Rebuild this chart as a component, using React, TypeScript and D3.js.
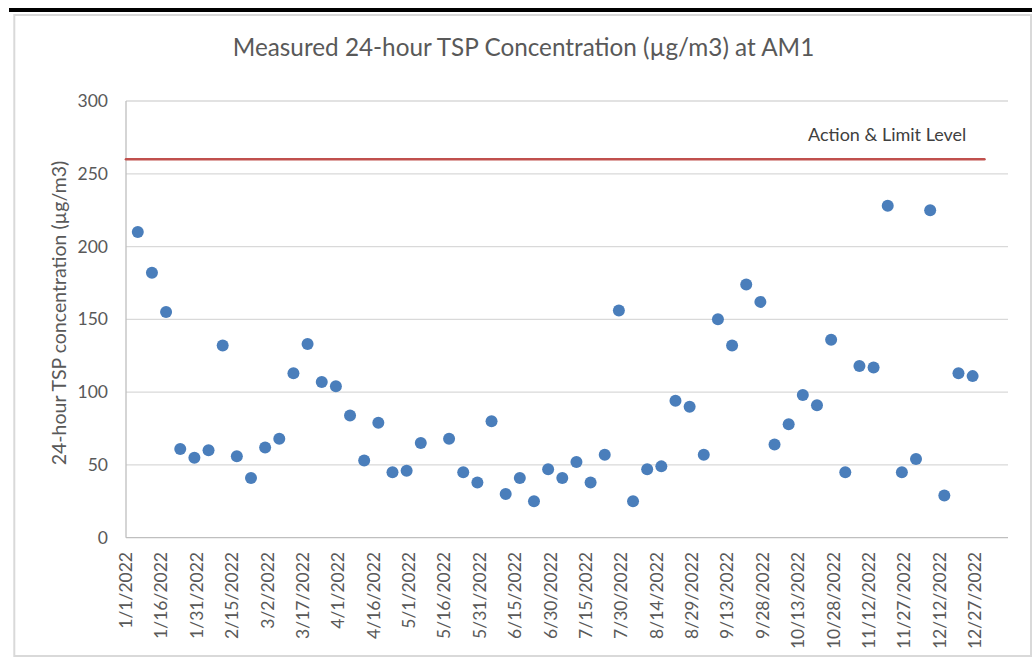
import React from "react";
import * as d3 from "d3";

const sampleDates: string[] = [
  "2022-01-06","2022-01-12","2022-01-18","2022-01-24","2022-01-30","2022-02-05","2022-02-11","2022-02-17","2022-02-23","2022-03-01",
  "2022-03-07","2022-03-13","2022-03-19","2022-03-25","2022-03-31","2022-04-06","2022-04-12","2022-04-18","2022-04-24","2022-04-30",
  "2022-05-06","2022-05-18","2022-05-24","2022-05-30","2022-06-05","2022-06-11","2022-06-17","2022-06-23","2022-06-29",
  "2022-07-05","2022-07-11","2022-07-17","2022-07-23","2022-07-29","2022-08-04","2022-08-10","2022-08-16","2022-08-22","2022-08-28",
  "2022-09-03","2022-09-09","2022-09-15","2022-09-21","2022-09-27","2022-10-03","2022-10-09","2022-10-15","2022-10-21","2022-10-27",
  "2022-11-02","2022-11-08","2022-11-14","2022-11-20","2022-11-26","2022-12-02","2022-12-08","2022-12-14","2022-12-20","2022-12-26",
];

const tspValues: number[] = [
  210, 182, 155, 61, 55, 60, 132, 56, 41, 62,
  68, 113, 133, 107, 104, 84, 53, 79, 45, 46,
  65, 68, 45, 38, 80, 30, 41, 25, 47,
  41, 52, 38, 57, 156, 25, 47, 49, 94, 90,
  57, 150, 132, 174, 162, 64, 78, 98, 91, 136,
  45, 118, 117, 228, 45, 54, 225, 29, 113, 111,
];

const limitDates: string[] = ["2022-01-01", "2022-12-31"];
const limitValue = 260;

const xTickLabels: string[] = [
  "1/1/2022","1/16/2022","1/31/2022","2/15/2022","3/2/2022","3/17/2022","4/1/2022","4/16/2022","5/1/2022",
  "5/16/2022","5/31/2022","6/15/2022","6/30/2022","7/15/2022","7/30/2022","8/14/2022","8/29/2022","9/13/2022",
  "9/28/2022","10/13/2022","10/28/2022","11/12/2022","11/27/2022","12/12/2022","12/27/2022",
];
const yTicks: number[] = [0, 50, 100, 150, 200, 250, 300];

const FONT = "Lato, 'Open Sans', sans-serif";

export default function App() {
  const parseIso = d3.utcParse("%Y-%m-%d");
  const parseUs = d3.utcParse("%-m/%-d/%Y");
  const x = d3
    .scaleUtc()
    .domain([Date.UTC(2022, 0, 1), Date.UTC(2023, 0, 10)])
    .range([126, 1008]);
  const y = d3.scaleLinear().domain([0, 300]).range([537.7, 101]);

  const points = sampleDates.map((d, i) => ({ date: parseIso(d)!, value: tspValues[i] }));
  const limitLine = d3
    .line<string>()
    .x((d) => x(parseIso(d)!))
    .y(() => y(limitValue));

  return (
    <svg width={1032} height={661} style={{ position: "absolute", left: 0, top: 0, background: "#fff" }}>
      <rect x={9} y={8} width={1023} height={4} fill="#000" />
      <rect x={14.3} y={15} width={1016.7} height={641} fill="#fff" stroke="#d9d9d9" strokeWidth={2} />
      <text x={523.5} y={56} textAnchor="middle" fontFamily={FONT} fontSize={24.3} fill="#595959">
        Measured 24-hour TSP Concentration (µg/m3) at AM1
      </text>
      {yTicks.map((t) => (
        <g key={t}>
          {t > 0 && (
            <line x1={x.range()[0]} x2={x.range()[1]} y1={y(t)} y2={y(t)} stroke="#d9d9d9" strokeWidth={1.3} />
          )}
          <text x={108} y={y(t)} dy="0.35em" textAnchor="end" fontFamily={FONT} fontSize={17.5} fill="#595959">
            {t}
          </text>
        </g>
      ))}
      <line x1={x.range()[0]} x2={x.range()[1]} y1={y(0)} y2={y(0)} stroke="#bfbfbf" strokeWidth={1.3} />
      <line x1={x.range()[0]} x2={x.range()[0]} y1={y(300)} y2={y(0)} stroke="#bfbfbf" strokeWidth={1.3} />
      {xTickLabels.map((lab) => {
        const px = x(parseUs(lab)!);
        return (
          <text
            key={lab}
            transform={`translate(${px},552) rotate(-90)`}
            dy="0.35em"
            textAnchor="end"
            fontFamily={FONT}
            fontSize={17.5}
            fill="#595959"
          >
            {lab}
          </text>
        );
      })}
      <text
        transform="translate(66,313) rotate(-90)"
        textAnchor="middle"
        fontFamily={FONT}
        fontSize={19.5}
        fill="#595959"
      >
        24-hour TSP concentration (µg/m3)
      </text>
      <path d={limitLine(limitDates) || ""} stroke="#c0504d" strokeWidth={2.6} fill="none" strokeLinecap="round" />
      <text x={808} y={141} fontFamily={FONT} fontSize={18} fill="#404040">
        Action &amp; Limit Level
      </text>
      {points.map((p, i) => (
        <circle key={i} cx={x(p.date)} cy={y(p.value)} r={6} fill="#4a7ebb" />
      ))}
    </svg>
  );
}
